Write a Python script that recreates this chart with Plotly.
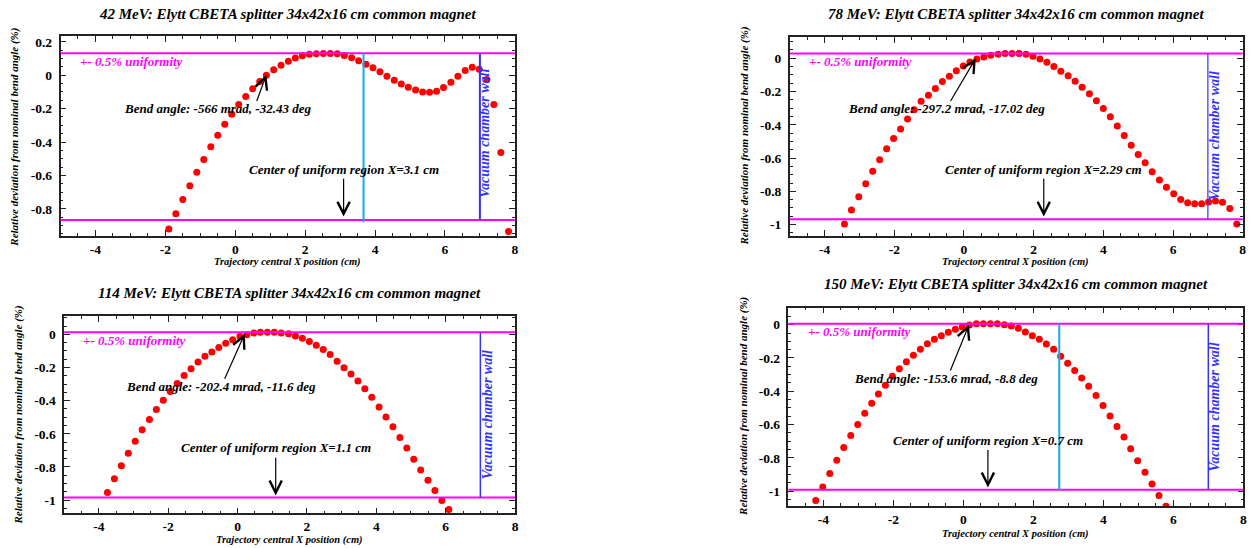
import plotly.graph_objects as go

W, H = 1252, 548
SERIF = "Liberation Serif"

# ---------------- data ----------------
energies = ["42", "78", "114", "150"]

p1_x = [-1.90, -1.70, -1.50, -1.30, -1.10, -0.90, -0.70, -0.50, -0.30, -0.10,
        0.10, 0.30, 0.50, 0.70, 0.89, 1.10, 1.31, 1.52, 1.72, 1.92,
        2.12, 2.32, 2.52, 2.72, 2.92, 3.12, 3.33, 3.53, 3.74, 3.94,
        4.14, 4.34, 4.55, 4.75, 4.95, 5.16, 5.36, 5.56, 5.76, 5.96,
        6.17, 6.37, 6.58, 6.78, 6.98, 7.20, 7.40, 7.60, 7.82]
p1_y = [-0.920, -0.830, -0.744, -0.662, -0.581, -0.505, -0.429, -0.360, -0.294, -0.234,
        -0.176, -0.127, -0.081, -0.037, 0.000, 0.032, 0.060, 0.084, 0.103, 0.117,
        0.125, 0.129, 0.130, 0.130, 0.128, 0.118, 0.105, 0.087, 0.066, 0.044,
        0.020, -0.006, -0.030, -0.052, -0.072, -0.088, -0.100, -0.102, -0.096, -0.074,
        -0.042, -0.006, 0.028, 0.048, 0.036, -0.026, -0.175, -0.462, -0.935]

p2_x = [-3.43, -3.23, -3.02, -2.82, -2.62, -2.42, -2.22, -2.02, -1.82, -1.62,
        -1.43, -1.23, -1.02, -0.82, -0.62, -0.42, -0.22, -0.02, 0.17, 0.37,
        0.57, 0.77, 0.98, 1.18, 1.38, 1.58, 1.78, 1.98, 2.18, 2.38,
        2.58, 2.78, 2.99, 3.19, 3.39, 3.60, 3.80, 4.00, 4.20, 4.40,
        4.60, 4.80, 5.00, 5.20, 5.40, 5.61, 5.81, 6.02, 6.22, 6.42,
        6.62, 6.82, 7.02, 7.22, 7.42, 7.63, 7.83]
p2_y = [-0.996, -0.912, -0.832, -0.754, -0.680, -0.610, -0.544, -0.482, -0.426, -0.366,
        -0.310, -0.258, -0.222, -0.182, -0.140, -0.108, -0.076, -0.046, -0.022, -0.004,
        0.008, 0.018, 0.024, 0.028, 0.028, 0.028, 0.024, 0.012, -0.004, -0.024,
        -0.049, -0.079, -0.106, -0.138, -0.175, -0.213, -0.256, -0.302, -0.352, -0.407,
        -0.465, -0.523, -0.578, -0.629, -0.683, -0.732, -0.776, -0.815, -0.849, -0.868,
        -0.874, -0.874, -0.864, -0.858, -0.865, -0.903, -0.996]

p3_x = [-3.75, -3.55, -3.35, -3.15, -2.95, -2.75, -2.54, -2.34, -2.14, -1.94,
        -1.74, -1.54, -1.34, -1.14, -0.94, -0.74, -0.54, -0.34, -0.14, 0.07,
        0.27, 0.47, 0.66, 0.86, 1.06, 1.26, 1.47, 1.67, 1.87, 2.07,
        2.27, 2.47, 2.67, 2.87, 3.07, 3.27, 3.47, 3.67, 3.87, 4.08,
        4.28, 4.48, 4.68, 4.88, 5.08, 5.28, 5.49, 5.69, 5.89, 6.09]
p3_y = [-0.954, -0.871, -0.793, -0.717, -0.645, -0.576, -0.514, -0.454, -0.398, -0.345,
        -0.297, -0.249, -0.207, -0.167, -0.133, -0.106, -0.080, -0.054, -0.032, -0.012,
        -0.002, 0.008, 0.012, 0.012, 0.012, 0.008, 0.004, -0.010, -0.024, -0.044,
        -0.066, -0.092, -0.122, -0.162, -0.201, -0.239, -0.281, -0.328, -0.380, -0.438,
        -0.498, -0.558, -0.622, -0.685, -0.753, -0.818, -0.881, -0.942, -1.003, -1.057]

p4_x = [-4.22, -4.02, -3.82, -3.62, -3.42, -3.22, -3.02, -2.82, -2.62, -2.43,
        -2.23, -2.03, -1.83, -1.63, -1.43, -1.23, -1.03, -0.83, -0.63, -0.43,
        -0.23, -0.03, 0.17, 0.37, 0.57, 0.77, 0.97, 1.17, 1.37, 1.57,
        1.77, 1.97, 2.17, 2.37, 2.58, 2.78, 2.98, 3.18, 3.38, 3.58,
        3.79, 3.99, 4.19, 4.39, 4.59, 4.78, 4.98, 5.19, 5.39, 5.59, 5.79]
p4_y = [-1.056, -0.976, -0.894, -0.814, -0.738, -0.666, -0.600, -0.532, -0.472, -0.416,
        -0.364, -0.310, -0.264, -0.222, -0.184, -0.148, -0.114, -0.088, -0.066, -0.046,
        -0.028, -0.014, -0.002, 0.006, 0.006, 0.006, 0.006, 0.000, -0.008, -0.022,
        -0.044, -0.066, -0.088, -0.116, -0.148, -0.189, -0.232, -0.275, -0.320, -0.370,
        -0.426, -0.486, -0.548, -0.611, -0.675, -0.745, -0.817, -0.887, -0.958, -1.027, -1.091]

series_x = [p1_x, p2_x, p3_x, p4_x]
series_y = [p1_y, p2_y, p3_y, p4_y]

# +-0.5% uniformity band limits
band_hi = [0.131, 0.028, 0.012, 0.006]
band_lo = [-0.867, -0.968, -0.985, -0.992]

# bend angle (mrad, deg) and centre of the uniform region (cm)
bend_mrad = ["-566", "-297.2", "-202.4", "-153.6"]
bend_deg = ["-32.43", "-17.02", "-11.6", "-8.8"]
center_x = [3.1, 2.29, 1.1, 0.7]

wall_x = 7.0
edge_x = [3.67, None, None, 2.74]       # light-blue marker line per panel

x_tick_vals = [-4, -2, 0, 2, 4, 6, 8]
x_tick_text = ["-4", "-2", "0", "2", "4", "6", "8"]
y_tick_vals_top = [0.2, 0, -0.2, -0.4, -0.6, -0.8]
y_tick_text_top = ["0.2", "0", "-0.2", "-0.4", "-0.6", "-0.8"]
y_tick_vals = [0, -0.2, -0.4, -0.6, -0.8, -1]
y_tick_text = ["0", "-0.2", "-0.4", "-0.6", "-0.8", "-1"]

# ---------------- layout geometry (pixels) ----------------
frames = [  # x0, x1, y0(top), y1(bottom)
    (60.7, 516.5, 35.0, 235.0),
    (792.3, 1246.7, 36.0, 235.0),
    (64.3, 516.7, 316.0, 513.3),
    (791.0, 1247.3, 307.3, 506.0),
]
y_ranges = [(-0.96, 0.235), (-1.066, 0.128), (-1.08, 0.108), (-1.09, 0.102)]

# annotation placement (data coords)
bend_text_pos = [(-0.505, -0.197), (-0.51, -0.30), (-0.49, -0.317), (-0.50, -0.324)]
bend_arrow = [((0.60, -0.163), (0.89, 0.003)), ((-0.41, -0.266), (0.34, 0.0)),
              ((-0.39, -0.277), (0.21, 0.004)), ((-0.39, -0.284), (0.16, 0.0))]
center_text_y = [-0.567, -0.670, -0.685, -0.696]
center_arrow_y = [(-0.611, -0.846), (-0.716, -0.952), (-0.735, -0.972), (-0.744, -0.978)]
unif_text_y = [0.081, -0.02, -0.036, -0.040]
wall_text_pos = [(7.15, -0.35), (7.19, -0.466), (7.19, -0.482), (7.17, -0.496)]
wall_width = [2.0, 1.2, 1.5, 1.5]

title_pos = [(288.7, 13.3), (1019.7, 13.3), (290.3, 292.7), (1018.8, 284.0)]
xtitle_pos = [(288, 261.5), (1019, 261), (290.5, 539.5), (1019, 533.5)]
ytitle_pos = [(15, 136), (746.7, 135.5), (18.3, 415), (746, 406)]

MAGENTA = "#ff00ff"
BLUE = "#3232ff"
CYAN = "#1aa8f0"
FRAME = "#222222"


def px_x(p):
    return p / W


def px_y(p):
    return 1 - p / H


def bi(size, color="black"):
    return dict(family=SERIF, size=size, color=color, weight="bold", style="italic")


fig = go.Figure()
layout = dict(
    width=W, height=H, margin=dict(l=0, r=0, t=0, b=0),
    paper_bgcolor="white", plot_bgcolor="white", showlegend=False,
)
annotations = []
shapes = []

for i in range(4):
    n = "" if i == 0 else str(i + 1)
    xa, ya = "x" + n, "y" + n
    x0, x1, t, b = frames[i]

    fig.add_trace(go.Scatter(
        x=series_x[i], y=series_y[i], mode="markers", xaxis=xa, yaxis=ya,
        marker=dict(color="#ff0000", size=7, line=dict(width=0)),
    ))

    axis_base = dict(
        showline=True, linecolor=FRAME, linewidth=1.5, mirror="ticks",
        ticks="inside", ticklen=6, tickwidth=1, tickcolor=FRAME,
        showgrid=False, zeroline=False,
        tickfont=dict(family=SERIF, size=13.5, color="black", weight="bold"),
    )
    layout["xaxis" + n] = dict(
        axis_base, domain=[px_x(x0), px_x(x1)], anchor=ya, range=[-5, 8],
        tickmode="array", tickvals=x_tick_vals, ticktext=x_tick_text,
        minor=dict(ticks="inside", ticklen=3, tickcolor=FRAME, tick0=0, dtick=0.5),
    )
    yv, yt = (y_tick_vals_top, y_tick_text_top) if i == 0 else (y_tick_vals, y_tick_text)
    layout["yaxis" + n] = dict(
        axis_base, domain=[px_y(b), px_y(t)], anchor=xa, range=list(y_ranges[i]),
        tickmode="array", tickvals=yv, ticktext=yt, ticklabelstandoff=4,
        minor=dict(ticks="inside", ticklen=3, tickcolor=FRAME, tick0=0, dtick=0.05),
    )

    # uniformity band limits
    for lvl in (band_hi[i], band_lo[i]):
        shapes.append(dict(type="line", xref=xa + " domain", yref=ya, x0=0, x1=1,
                           y0=lvl, y1=lvl, line=dict(color=MAGENTA, width=2)))
    # vacuum chamber wall
    shapes.append(dict(type="line", xref=xa, yref=ya, x0=wall_x, x1=wall_x,
                       y0=band_lo[i], y1=band_hi[i], line=dict(color=BLUE, width=wall_width[i])))
    if edge_x[i] is not None:
        shapes.append(dict(type="line", xref=xa, yref=ya, x0=edge_x[i], x1=edge_x[i],
                           y0=band_lo[i] - (0.013 if i == 0 else 0), y1=band_hi[i],
                           line=dict(color=CYAN, width=2)))

    # title and axis titles
    tx, ty = title_pos[i]
    annotations.append(dict(xref="paper", yref="paper", x=px_x(tx), y=px_y(ty),
                            xanchor="center", yanchor="middle", showarrow=False,
                            text=f"{energies[i]} MeV: Elytt CBETA splitter 34x42x16 cm common magnet",
                            font=bi(15)))
    tx, ty = xtitle_pos[i]
    annotations.append(dict(xref="paper", yref="paper", x=px_x(tx), y=px_y(ty),
                            xanchor="center", yanchor="middle", showarrow=False,
                            text="Trajectory central X position (cm)", font=bi(10.5)))
    tx, ty = ytitle_pos[i]
    annotations.append(dict(xref="paper", yref="paper", x=px_x(tx), y=px_y(ty),
                            xanchor="center", yanchor="middle", showarrow=False, textangle=-90,
                            text="Relative deviation from nominal bend angle (%)", font=bi(11)))

    # in-plot labels
    annotations.append(dict(xref=xa, yref=ya, x=-4.5, y=unif_text_y[i], xanchor="left",
                            yanchor="middle", showarrow=False, text="+- 0.5% uniformity",
                            font=bi(13, MAGENTA)))
    bx, by = bend_text_pos[i]
    annotations.append(dict(xref=xa, yref=ya, x=bx, y=by, xanchor="center", yanchor="middle",
                            showarrow=False, font=bi(13),
                            text=f"Bend angle: {bend_mrad[i]} mrad, {bend_deg[i]} deg"))
    (ax_, ay_), (hx, hy) = bend_arrow[i]
    annotations.append(dict(xref=xa, yref=ya, axref=xa, ayref=ya, x=hx, y=hy, ax=ax_, ay=ay_,
                            text="", showarrow=True, arrowhead=5, arrowsize=2, arrowwidth=1.2,
                            arrowcolor="black", standoff=0, startstandoff=0))
    annotations.append(dict(xref=xa, yref=ya, x=center_x[i], y=center_text_y[i],
                            xanchor="center", yanchor="middle", showarrow=False, font=bi(13),
                            text=f"Center of uniform region X={center_x[i]} cm"))
    y_tail, y_tip = center_arrow_y[i]
    annotations.append(dict(xref=xa, yref=ya, axref=xa, ayref=ya, x=center_x[i], y=y_tip,
                            ax=center_x[i], ay=y_tail, text="", showarrow=True, arrowhead=5,
                            arrowsize=2, arrowwidth=1.2, arrowcolor="black",
                            standoff=0, startstandoff=0))
    wx, wy = wall_text_pos[i]
    annotations.append(dict(xref=xa, yref=ya, x=wx, y=wy, xanchor="center", yanchor="middle",
                            showarrow=False, textangle=-90, text="Vacuum chamber wall",
                            font=bi(14, BLUE)))

layout["annotations"] = annotations
layout["shapes"] = shapes
fig.update_layout(**layout)
fig.write_html("out.html")
